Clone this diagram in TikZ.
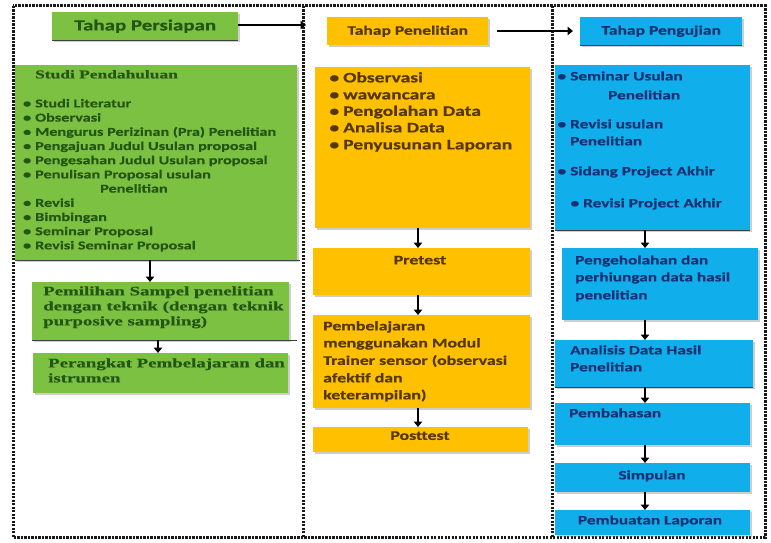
\documentclass[tikz,border=0pt]{standalone}
\usepackage{fontspec}
\setmainfont{Carlito}
\newfontfamily\cb[FakeStretch=1.35,FakeBold=0.6]{Carlito}
\newfontfamily\sr[FakeStretch=1.45,FakeBold=0.5]{Liberation Serif}
\usetikzlibrary{arrows.meta,shadows,calc}
\definecolor{gfill}{RGB}{125,193,66}
\definecolor{ofill}{RGB}{255,192,0}
\definecolor{bfill}{RGB}{17,174,236}
\definecolor{gtext}{RGB}{35,85,20}
\definecolor{otext}{RGB}{85,55,0}
\definecolor{btext}{RGB}{20,50,115}
\definecolor{framec}{RGB}{25,25,25}
\begin{document}
\begin{tikzpicture}[x=1pt,y=-1pt,
  box/.style={rectangle, inner sep=0pt, anchor=north west, draw=none,
    drop shadow={shadow xshift=1.5pt, shadow yshift=-1.5pt, opacity=0.35, fill=black!55}},
  gbox/.style={box, fill=gfill},
  obox/.style={box, fill=ofill},
  bbox/.style={box, fill=bfill},
  frame/.style={draw=framec, line width=3pt, dash pattern=on 2.2pt off 1.3pt},
  arr/.style={draw=black, line width=2pt, -{Triangle[length=5.5pt,width=8.5pt]}},
  botline/.style={draw=black!75, line width=0.9pt},
  gl/.style={font=\cb\bfseries\fontsize{12}{14}\selectfont, text=gtext, anchor=mid west, inner sep=0pt},
  gs/.style={font=\sr\bfseries\fontsize{13}{15}\selectfont, text=gtext, anchor=mid west, inner sep=0pt},
  ol/.style={font=\cb\bfseries\fontsize{14.5}{17}\selectfont, text=otext, anchor=mid west, inner sep=0pt},
  os/.style={font=\cb\bfseries\fontsize{13.2}{17}\selectfont, text=otext, anchor=mid west, inner sep=0pt},
  bl/.style={font=\cb\bfseries\fontsize{12.8}{17}\selectfont, text=btext, anchor=mid west, inner sep=0pt}
]
\useasboundingbox[fill=white] (0,0) rectangle (771,543);

% frame
\draw[frame] (13,6) rectangle (765,537);
\draw[frame] (303,6) -- (303,537);
\draw[frame] (552,6) -- (552,537);

% ---------- headers ----------
\node[gbox, minimum width=186pt, minimum height=28pt,
  font=\cb\bfseries\fontsize{15.5}{18}\selectfont, text=gtext] (tp) at (52,12) {Tahap Persiapan};
\draw[botline] (tp.south west) -- (tp.south east);
\node[obox, minimum width=161pt, minimum height=28pt,
  font=\cb\bfseries\fontsize{13}{16}\selectfont, text=otext] (tpe) at (327,17) {Tahap Penelitian};
\node[bbox, minimum width=162pt, minimum height=28pt,
  font=\cb\bfseries\fontsize{13}{16}\selectfont, text=btext] (tpg) at (580,17) {Tahap Pengujian};
\draw[botline] (tpg.south west) -- (tpg.south east);
\coordinate (c1) at (306,25);
\draw[arr] (tp.east |- c1) -- (c1);
\draw[arr, shorten <=9pt, shorten >=7pt] (tpe.east |- 0,31) -- (tpg.west |- 0,31);

% ---------- left column ----------
\node[gbox, minimum width=282pt, minimum height=195pt] (sp) at (15,65) {};
\draw[botline] (sp.south west) -- ([xshift=3pt]sp.south east);
\node[gs, font=\sr\bfseries\fontsize{12}{14}\selectfont] (sph) at (35,76) {Studi Pendahuluan};
\node[gl] (s1) at (35,105) {\llap{\textbullet\hspace{4pt}}Studi Literatur};
\node[gl] (s2) at (35,119.2) {\llap{\textbullet\hspace{4pt}}Observasi};
\node[gl] (s3) at (35,133.4) {\llap{\textbullet\hspace{4pt}}Mengurus Perizinan (Pra) Penelitian};
\node[gl] (s4) at (35,147.6) {\llap{\textbullet\hspace{4pt}}Pengajuan Judul Usulan proposal};
\node[gl] (s5) at (35,161.8) {\llap{\textbullet\hspace{4pt}}Pengesahan Judul Usulan proposal};
\node[gl] (s6) at (35,176) {\llap{\textbullet\hspace{4pt}}Penulisan Proposal usulan};
\node[gl] (s7) at (100,190.2) {Penelitian};
\node[gl] (s8) at (35,204.4) {\llap{\textbullet\hspace{4pt}}Revisi};
\node[gl] (s9) at (35,218.6) {\llap{\textbullet\hspace{4pt}}Bimbingan};
\node[gl] (s10) at (35,232.8) {\llap{\textbullet\hspace{4pt}}Seminar Proposal};
\node[gl] (s11) at (35,247) {\llap{\textbullet\hspace{4pt}}Revisi Seminar Proposal};

\node[gbox, minimum width=257pt, minimum height=58pt] (pem) at (32,282) {};
\draw[botline] (pem.south west) -- ([xshift=8pt]pem.south east);
\node[gs] (pm1) at (43,293) {Pemilihan Sampel penelitian};
\node[gs] (pm2) at (43,308) {dengan teknik (dengan teknik};
\node[gs] (pm3) at (43,323) {purposive sampling)};

\node[gbox, minimum width=255pt, minimum height=40pt] (per) at (33,353) {};
\node[gs] (pr1) at (48,365) {Perangkat Pembelajaran dan};
\node[gs] (pr2) at (48,380) {istrumen};

\draw[arr] (sp.south -| 150,0) -- (pem.north -| 150,0);
\draw[arr] (pem.south -| 158,0) -- (per.north -| 158,0);

% ---------- middle column ----------
\node[obox, minimum width=215pt, minimum height=161pt] (ob) at (315,67) {};
\node[ol] (o1) at (343,80) {\llap{\textbullet\hspace{4pt}}Observasi};
\node[ol] (o2) at (343,97) {\llap{\textbullet\hspace{4pt}}wawancara};
\node[ol] (o3) at (343,113.5) {\llap{\textbullet\hspace{4pt}}Pengolahan Data};
\node[ol] (o4) at (343,130) {\llap{\textbullet\hspace{4pt}}Analisa Data};
\node[ol] (o5) at (343,147) {\llap{\textbullet\hspace{4pt}}Penyusunan Laporan};

\node[obox, minimum width=217pt, minimum height=47pt] (pre) at (313,248) {};
\node[os, anchor=mid] (pret) at (420,262) {Pretest};

\node[obox, minimum width=217pt, minimum height=93pt] (pbl) at (313,315) {};
\node[os] (pb1) at (323,328) {Pembelajaran};
\node[os] (pb2) at (323,345) {menggunakan Modul};
\node[os] (pb3) at (323,362.5) {Trainer sensor (observasi};
\node[os] (pb4) at (323,380) {afektif dan};
\node[os] (pb5) at (323,397) {keterampilan)};

\node[obox, minimum width=215pt, minimum height=25pt] (post) at (313,427) {};
\node[os, anchor=mid] (postt) at (420,437.5) {Posttest};

\draw[arr] (ob.south -| 418,0) -- (pre.north -| 418,0);
\draw[arr] (pre.south -| 418,0) -- (pbl.north -| 418,0);
\draw[arr] (pbl.south -| 418,0) -- (post.north -| 418,0);

% ---------- right column ----------
\node[bbox, minimum width=195pt, minimum height=165pt] (bb) at (555,65) {};
\draw[botline] (bb.south west) -- (bb.south east);
\node[bl] (b1) at (570,78) {\llap{\textbullet\hspace{4pt}}Seminar Usulan};
\node[bl] (b2) at (608,97) {Penelitian};
\node[bl] (b3) at (570,126) {\llap{\textbullet\hspace{4pt}}Revisi usulan};
\node[bl] (b4) at (570,143) {Penelitian};
\node[bl] (b5) at (570,173) {\llap{\textbullet\hspace{4pt}}Sidang Project Akhir};
\node[bl] (b6) at (583,205) {\llap{\textbullet\hspace{4pt}}Revisi Project Akhir};

\node[bbox, minimum width=196pt, minimum height=72pt] (peng) at (562,248) {};
\node[bl] (pg1) at (575,262) {Pengeholahan dan};
\node[bl] (pg2) at (575,279) {perhiungan data hasil};
\node[bl] (pg3) at (575,297) {penelitian};

\node[bbox, minimum width=198pt, minimum height=47pt] (ana) at (555,340) {};
\draw[botline] (ana.south west) -- (ana.south east);
\node[bl] (an1) at (570,352) {Analisis Data Hasil};
\node[bl] (an2) at (570,369) {Penelitian};

\node[bbox, minimum width=195pt, minimum height=42pt] (bah) at (555,403) {};
\node[bl] (ba1) at (569,415) {Pembahasan};

\node[bbox, minimum width=195pt, minimum height=29pt] (sim) at (555,463) {};
\node[bl, anchor=mid] (si1) at (652,477) {Simpulan};

\node[bbox, minimum width=195pt, minimum height=25pt] (lap) at (555,510) {};
\node[bl, anchor=mid] (la1) at (650,522) {Pembuatan Laporan};

\draw[arr] (bb.south -| 645,0) -- (peng.north -| 645,0);
\draw[arr] (peng.south -| 645,0) -- (ana.north -| 645,0);
\draw[arr] (ana.south -| 645,0) -- (bah.north -| 645,0);
\draw[arr] (bah.south -| 645,0) -- (sim.north -| 645,0);
\draw[arr] (sim.south -| 645,0) -- (lap.north -| 645,0);
\end{tikzpicture}
\end{document}
